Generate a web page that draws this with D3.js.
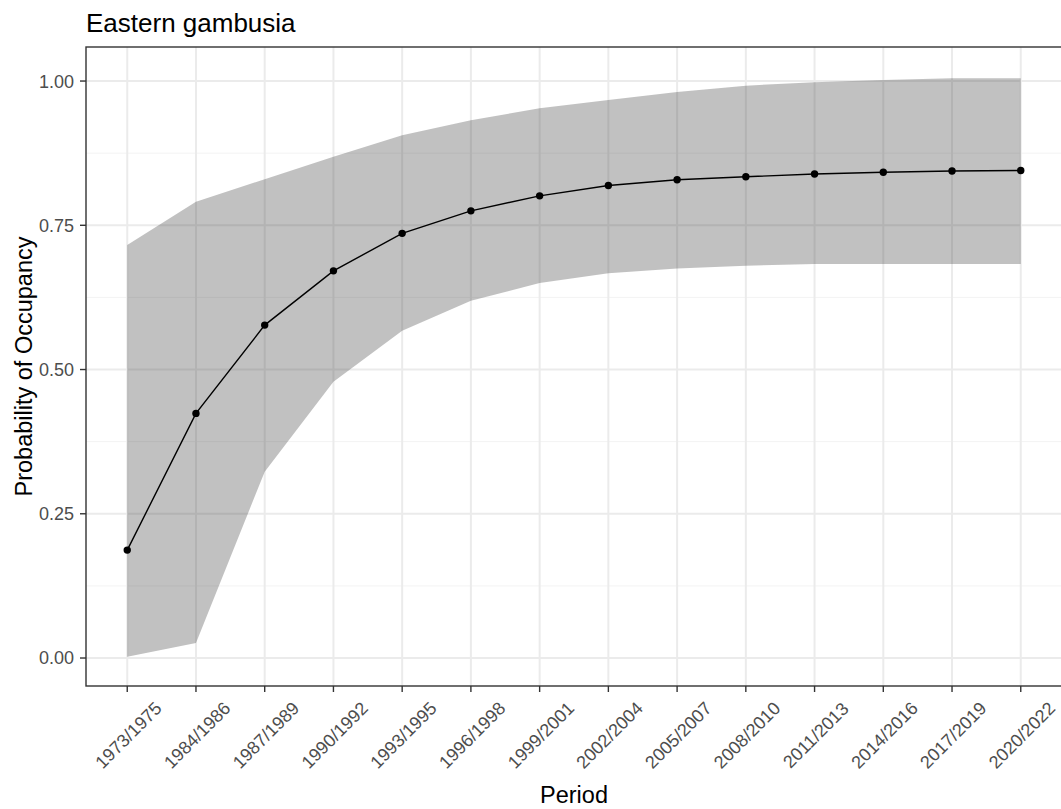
<!DOCTYPE html>
<html lang="en">
  <head>
    <meta charset="utf-8">
    <script src="https://cdn.jsdelivr.net/npm/d3@7"></script>
    <style>
      body{ margin:0; background:white; }
      svg{ display:block; font-family:"Liberation Sans", Arial, sans-serif; }
    </style>
  </head>
  <body>
    <svg></svg>
  </body>
  <script>
    // occupancy estimates per period, with the ribbon bounds
    var periods = ["1973/1975","1984/1986","1987/1989","1990/1992","1993/1995","1996/1998","1999/2001",
                   "2002/2004","2005/2007","2008/2010","2011/2013","2014/2016","2017/2019","2020/2022"];
    var estimate = [0.187,0.424,0.577,0.671,0.736,0.775,0.801,0.819,0.829,0.834,0.839,0.842,0.844,0.845];
    var lower    = [0.002,0.026,0.323,0.479,0.567,0.619,0.650,0.667,0.675,0.680,0.683,0.683,0.683,0.683];
    var upper    = [0.716,0.791,0.830,0.869,0.906,0.932,0.953,0.967,0.981,0.992,0.998,1.002,1.005,1.005];
    var yTicks = [0,0.25,0.5,0.75,1];
    var yMinor = [0.125,0.375,0.625,0.875];

    var svgwidth = 1061;
    var svgheight = 809;
    var panel = {left:86, top:47, right:1062, bottom:686};

    var svg = d3.select('svg')
                .attr('width',svgwidth)
                .attr('height',svgheight);

    var xScale = d3.scalePoint()
                   .domain(periods)
                   .range([panel.left,panel.right])
                   .padding(0.6);

    var yScale = d3.scaleLinear()
                   .domain([-0.0485,1.059])
                   .range([panel.bottom,panel.top]);

    var rows = periods.map(function(p,i){
      return {period:p, est:estimate[i], lo:lower[i], hi:upper[i]};
    });

    svg.append('defs').append('clipPath').attr('id','panel-clip')
      .append('rect')
      .attr('x',panel.left).attr('y',panel.top)
      .attr('width',panel.right-panel.left).attr('height',panel.bottom-panel.top);

    var plot = svg.append('g').attr('clip-path','url(#panel-clip)');

    // grid
    plot.selectAll('.minor').data(yMinor).enter().append('line')
        .attr('x1',panel.left).attr('x2',panel.right)
        .attr('y1',function(d){ return yScale(d); })
        .attr('y2',function(d){ return yScale(d); })
        .attr('stroke','#f3f3f3').attr('stroke-width',1);

    plot.selectAll('.hmajor').data(yTicks).enter().append('line')
        .attr('x1',panel.left).attr('x2',panel.right)
        .attr('y1',function(d){ return yScale(d); })
        .attr('y2',function(d){ return yScale(d); })
        .attr('stroke','#ebebeb').attr('stroke-width',2);

    plot.selectAll('.vmajor').data(periods).enter().append('line')
        .attr('y1',panel.top).attr('y2',panel.bottom)
        .attr('x1',function(d){ return xScale(d); })
        .attr('x2',function(d){ return xScale(d); })
        .attr('stroke','#ebebeb').attr('stroke-width',2);

    // ribbon
    var area = d3.area()
                 .x(function(d){ return xScale(d.period); })
                 .y0(function(d){ return yScale(d.lo); })
                 .y1(function(d){ return yScale(d.hi); });

    plot.append('path').datum(rows)
        .attr('d',area)
        .attr('fill','#333333')
        .attr('fill-opacity',0.3);

    var line = d3.line()
                 .x(function(d){ return xScale(d.period); })
                 .y(function(d){ return yScale(d.est); });

    plot.append('path').datum(rows)
        .attr('d',line)
        .attr('fill','none')
        .attr('stroke','black')
        .attr('stroke-width',1.4);

    plot.selectAll('.pt').data(rows).enter().append('circle')
        .attr('cx',function(d){ return xScale(d.period); })
        .attr('cy',function(d){ return yScale(d.est); })
        .attr('r',3.7)
        .attr('fill','black');

    // panel border
    svg.append('rect')
       .attr('x',panel.left).attr('y',panel.top)
       .attr('width',panel.right-panel.left).attr('height',panel.bottom-panel.top)
       .attr('fill','none').attr('stroke','#333333').attr('stroke-width',1.4);

    // y axis
    var yAxis = svg.append('g');
    yAxis.selectAll('line').data(yTicks).enter().append('line')
         .attr('x1',panel.left-6).attr('x2',panel.left)
         .attr('y1',function(d){ return yScale(d); })
         .attr('y2',function(d){ return yScale(d); })
         .attr('stroke','#333333').attr('stroke-width',1.4);
    yAxis.selectAll('text').data(yTicks).enter().append('text')
         .attr('x',panel.left-12)
         .attr('y',function(d){ return yScale(d); })
         .attr('dy','0.36em')
         .attr('text-anchor','end')
         .attr('fill','#4d4d4d')
         .style('font-size','18px')
         .text(function(d){ return d3.format('.2f')(d); });

    // x axis
    var xAxis = svg.append('g');
    xAxis.selectAll('line').data(periods).enter().append('line')
         .attr('y1',panel.bottom).attr('y2',panel.bottom+6)
         .attr('x1',function(d){ return xScale(d); })
         .attr('x2',function(d){ return xScale(d); })
         .attr('stroke','#333333').attr('stroke-width',1.4);
    xAxis.selectAll('text').data(periods).enter().append('text')
         .attr('transform',function(d){
           return 'translate('+(xScale(d)+1)+','+735+') rotate(-45)';
         })
         .attr('dy','0.36em')
         .attr('text-anchor','middle')
         .attr('fill','#4d4d4d')
         .style('font-size','18px')
         .text(function(d){ return d; });

    // titles
    svg.append('text')
       .attr('x',panel.left).attr('y',32)
       .style('font-size','26px')
       .attr('fill','black')
       .text('Eastern gambusia');

    svg.append('text')
       .attr('x',(panel.left+panel.right)/2).attr('y',803)
       .attr('text-anchor','middle')
       .style('font-size','23.5px')
       .attr('fill','black')
       .text('Period');

    svg.append('text')
       .attr('transform','translate(32,'+((panel.top+panel.bottom)/2)+') rotate(-90)')
       .attr('text-anchor','middle')
       .style('font-size','23.5px')
       .attr('fill','black')
       .text('Probability of Occupancy');
  </script>
</html>
